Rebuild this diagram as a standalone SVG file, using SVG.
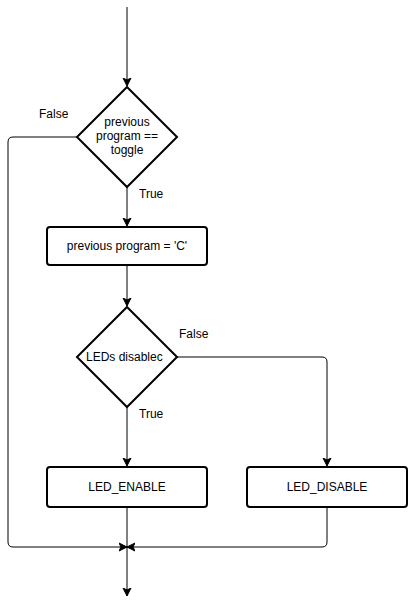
<svg xmlns="http://www.w3.org/2000/svg" width="409" height="606" viewBox="0 0 409 606">
<defs>
<style>
.n{fill:#fff;stroke:#000;stroke-width:2}
.e{fill:none;stroke:#000;stroke-width:1}
text{font-family:"Liberation Sans",Arial,sans-serif;font-size:12px;fill:#000}
.c{text-anchor:middle}
</style>
<marker id="a" markerWidth="10" markerHeight="10" refX="8" refY="4" orient="auto" markerUnits="userSpaceOnUse" viewBox="0 0 10 8">
<path d="M0,0 L8,4 L0,8 L2,4 Z" fill="#000" stroke="#000" stroke-width="1"/>
</marker>
</defs>
<rect width="409" height="606" fill="#fff"/>
<g id="connectors">
<path class="e" d="M127,7 V86" marker-end="url(#a)"/>
<path class="e" d="M127,187 V226" marker-end="url(#a)"/>
<path class="e" d="M127,265 V306" marker-end="url(#a)"/>
<path class="e" d="M127,407 V466" marker-end="url(#a)"/>
<path class="e" d="M177,357 H322 Q327,357 327,362 V466" marker-end="url(#a)"/>
<path class="e" d="M77,137 H13 Q8,137 8,142 V542 Q8,547 13,547 H127" marker-end="url(#a)"/>
<path class="e" d="M327,507 V542 Q327,547 322,547 H127" marker-end="url(#a)"/>
<path class="e" d="M127,507 V596" marker-end="url(#a)"/>
<text x="39" y="118">False</text>
<text x="139" y="198">True</text>
<text x="179" y="338">False</text>
<text x="139" y="418">True</text>
</g>
<g id="d1">
<path class="n" d="M127,87 L177,137 L127,187 L77,137 Z"/>
<text class="c" x="127" y="126">previous</text>
<text class="c" x="127" y="140">program ==</text>
<text class="c" x="127" y="154">toggle</text>
</g>
<g id="r1">
<rect class="n" x="47" y="227" width="160" height="38" rx="3"/>
<text class="c" x="127" y="250">previous program = 'C'</text>
</g>
<g id="d2">
<path class="n" d="M127,307 L177,357 L127,407 L77,357 Z"/>
<text x="86" y="361">LEDs disablec</text>
</g>
<g id="r2">
<rect class="n" x="47" y="467" width="160" height="40" rx="3"/>
<text class="c" x="127" y="491">LED_ENABLE</text>
</g>
<g id="r3">
<rect class="n" x="247" y="467" width="160" height="40" rx="3"/>
<text class="c" x="327" y="491">LED_DISABLE</text>
</g>
</svg>
